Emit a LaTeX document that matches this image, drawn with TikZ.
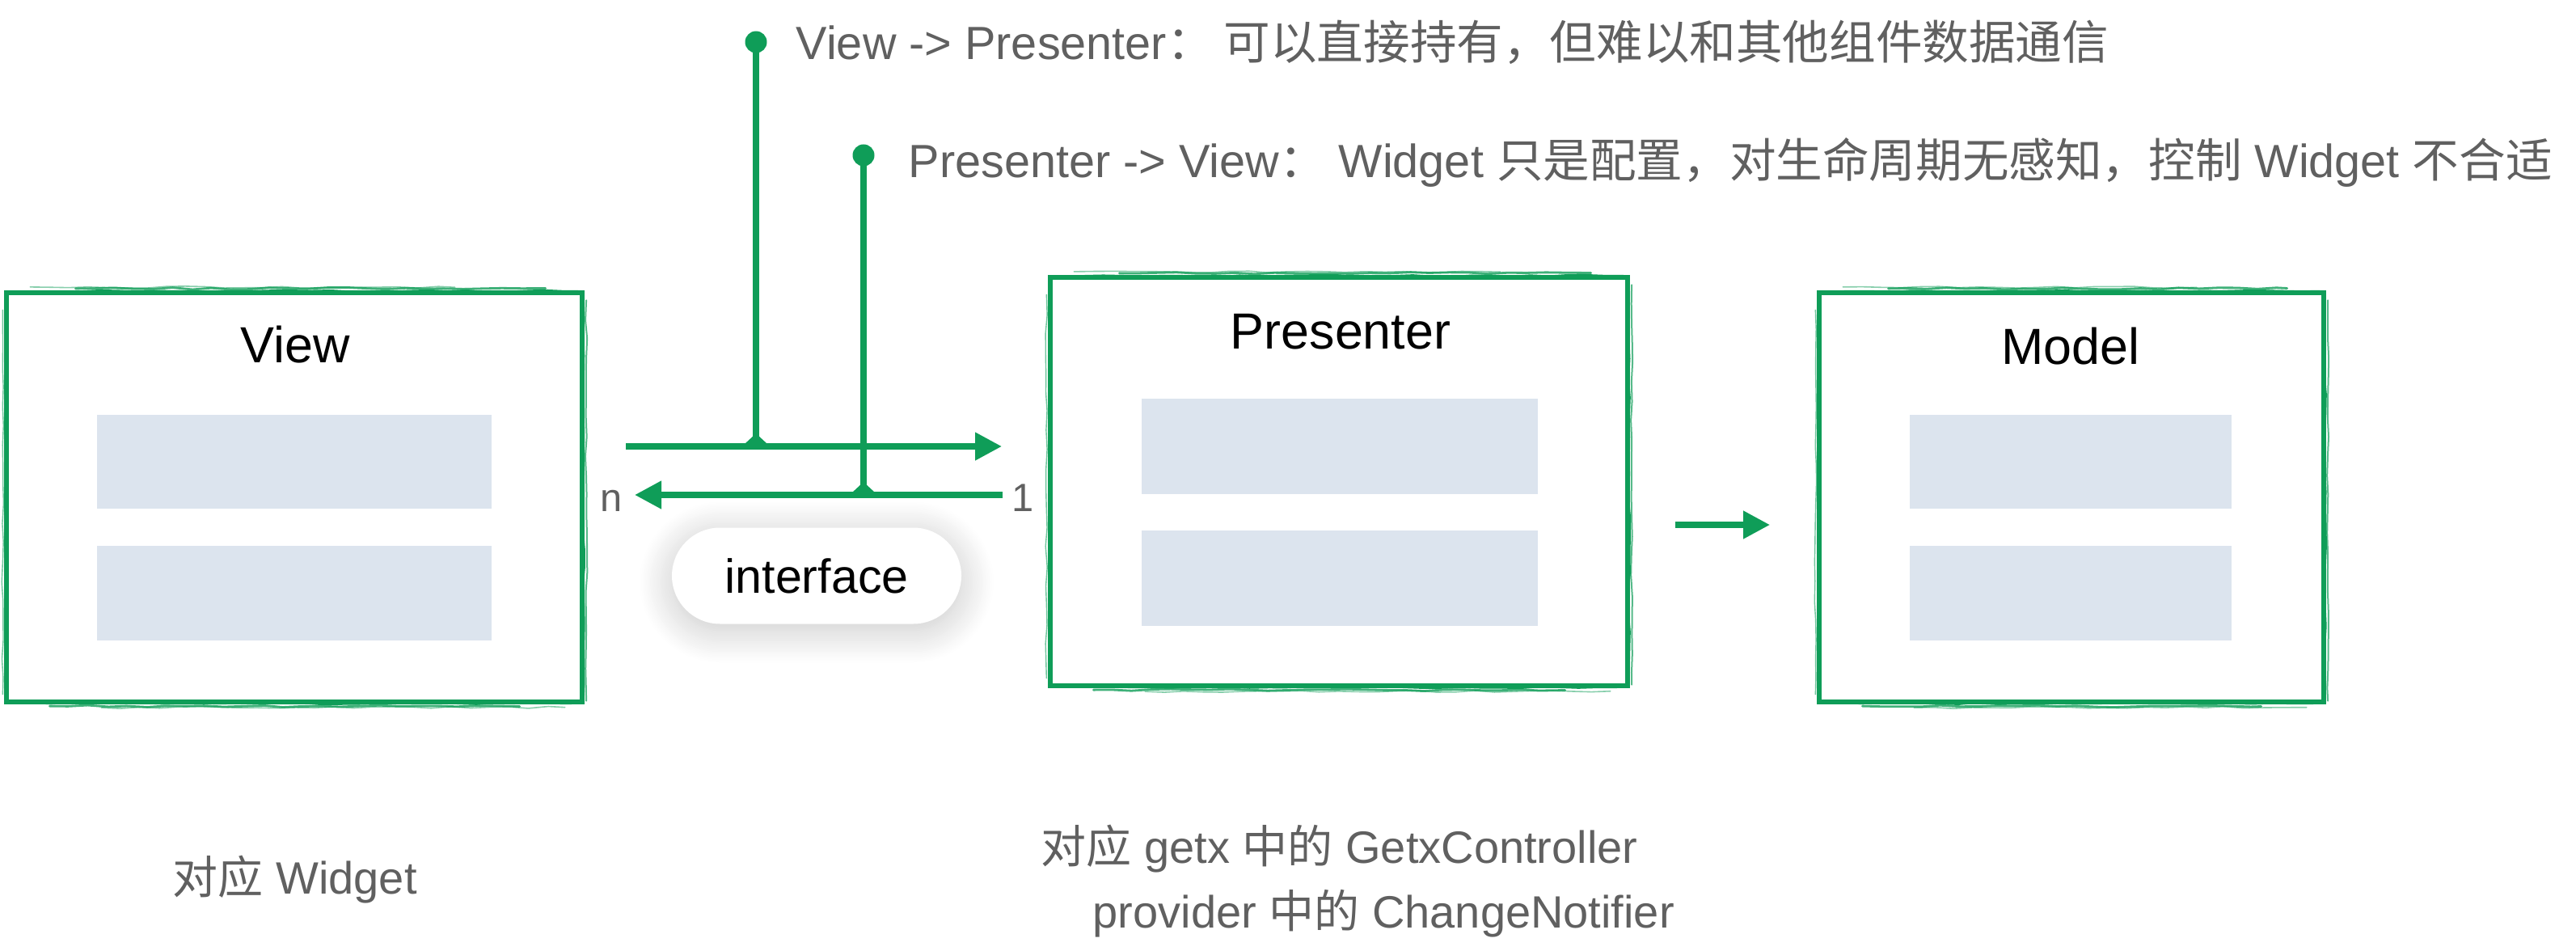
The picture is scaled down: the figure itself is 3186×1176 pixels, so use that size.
\documentclass[tikz,border=0pt]{standalone}
\usepackage{fontspec}
\setmainfont{Liberation Sans}
\newfontfamily\cjk{Noto Sans CJK SC}
\newcommand\zh[1]{{\cjk #1}}
\usetikzlibrary{arrows.meta,shapes.misc,shadows.blur,decorations.pathmorphing,calc}
\definecolor{mvpgreen}{RGB}{15,157,88}
\definecolor{panel}{RGB}{220,228,238}
\definecolor{notegray}{RGB}{96,96,96}
\tikzset{
  sketchbox/.style={draw=mvpgreen, line width=1.35pt, fill=white, inner sep=0pt},
  sk/.style={draw=mvpgreen, line cap=round, decorate, decoration={random steps, segment length=6pt, amplitude=0.3pt}},
  panelbox/.style={fill=panel, draw=none, inner sep=0pt},
  titletext/.style={font=\fontsize{15.7pt}{18pt}\selectfont, text=black, inner sep=0pt},
  notetext/.style={font=\fontsize{14.4pt}{17pt}\selectfont, text=notegray, inner sep=0pt, anchor=base west},
  captext/.style={font=\fontsize{14pt}{17pt}\selectfont, text=notegray, inner sep=0pt, anchor=base west},
  multext/.style={font=\fontsize{12.2pt}{14pt}\selectfont, text=notegray, inner sep=0pt, anchor=base},
  dotmark/.style={circle, fill=mvpgreen, inner sep=0pt, minimum size=6.75pt},
  link/.style={draw=mvpgreen, line width=1.875pt},
  arrowlink/.style={link, -{Triangle[length=8.25pt,width=8.25pt]}},
  pill/.style={rounded rectangle, fill=white, draw=none, minimum width=89.5pt, minimum height=29.75pt, inner sep=0pt,
    font=\fontsize{14.8pt}{17pt}\selectfont,
    blur shadow={shadow xshift=0pt, shadow yshift=-2pt, shadow blur radius=10pt, shadow blur steps=25, shadow opacity=22}},
}
\newcommand\brush[1]{%
  \draw[sk, line width=1.0pt] ([shift={(5pt,-0.5pt)}]#1.north west) -- ([shift={(-2pt,-0.4pt)}]#1.north east);
  \draw[sk, line width=0.7pt, opacity=.8] ([shift={(22pt,0.6pt)}]#1.north west) -- ([shift={(-12pt,0.7pt)}]#1.north east);
  \draw[sk, line width=0.4pt, opacity=.5] ([shift={(8pt,1.1pt)}]#1.north west) -- ([shift={(-40pt,1.0pt)}]#1.north east);
  \draw[sk, line width=1.0pt] ([shift={(2pt,0.5pt)}]#1.south west) -- ([shift={(-4pt,0.4pt)}]#1.south east);
  \draw[sk, line width=0.7pt, opacity=.8] ([shift={(14pt,-0.6pt)}]#1.south west) -- ([shift={(-20pt,-0.7pt)}]#1.south east);
  \draw[sk, line width=0.4pt, opacity=.5] ([shift={(30pt,-1.1pt)}]#1.south west) -- ([shift={(-6pt,-1.0pt)}]#1.south east);
  \draw[sk, line width=0.8pt] ([shift={(-0.4pt,-2pt)}]#1.north east) -- ([shift={(-0.4pt,2pt)}]#1.south east);
  \draw[sk, line width=0.5pt, opacity=.7] ([shift={(0.6pt,-3pt)}]#1.north east) -- ([shift={(0.6pt,1pt)}]#1.south east);
  \draw[sk, line width=0.35pt, opacity=.6] ([shift={(-0.5pt,-6pt)}]#1.north west) -- ([shift={(-0.5pt,3pt)}]#1.south west);
}
\begin{document}
\begin{tikzpicture}[x=0.25pt,y=-0.25pt]
\pgfmathsetseed{7}
\useasboundingbox (0,0) rectangle (3186,1176);

% boxes
\node[sketchbox, minimum width=178pt, minimum height=126.5pt] (view) at (364,615) {};
\node[sketchbox, minimum width=178.5pt, minimum height=126.25pt] (pres) at (1656,595.5) {};
\node[sketchbox, minimum width=156pt, minimum height=126.5pt] (model) at (2562,615) {};
\brush{view}
\brush{pres}
\brush{model}

% titles
\node[titletext, anchor=base] (viewt) at (365,449) {View};
\node[titletext, anchor=base] (prest) at (1658,431) {Presenter};
\node[titletext, anchor=base] (modelt) at (2561,451) {Model};

% inner panels
\node[panelbox, minimum width=122pt, minimum height=29pt] (v1) at (364,571) {};
\node[panelbox, minimum width=122pt, minimum height=29.25pt] (v2) at (364,733.5) {};
\node[panelbox, minimum width=122.5pt, minimum height=29.5pt] (p1) at (1657,552) {};
\node[panelbox, minimum width=122.5pt, minimum height=29.5pt] (p2) at (1657,715) {};
\node[panelbox, minimum width=99.5pt, minimum height=29pt] (m1) at (2561,571) {};
\node[panelbox, minimum width=99.5pt, minimum height=29.25pt] (m2) at (2561,733.5) {};

% connector end points
\coordinate (a1s) at (774,552);
\coordinate (a1e) at (1239,552);
\coordinate (a2s) at (1240,612);
\coordinate (a2e) at (785,612);
\coordinate (j1) at (935,552);
\coordinate (j2) at (1068,612);
\coordinate (a3s) at (2072,649);
\coordinate (a3e) at (2189,649);

% interface pill
\node[pill] (iface) at (1010,712) {interface};

% arrows
\draw[arrowlink] (a1s) -- (a1e);
\draw[arrowlink] (a2s) -- (a2e);
\draw[arrowlink] (a3s) -- (a3e);

% annotation dots and stems
\node[dotmark] (d1) at (935,52) {};
\node[dotmark] (d2) at (1068,192) {};
\draw[link] (d1.center) -- (j1);
\draw[link] (d2.center) -- (j2);
\fill[mvpgreen] ($(j1)+(-14,-3)$) -- ($(j1)+(14,-3)$) -- ($(j1)+(0,-16)$) -- cycle;
\fill[mvpgreen] ($(j2)+(-14,-3)$) -- ($(j2)+(14,-3)$) -- ($(j2)+(0,-16)$) -- cycle;

% multiplicity labels
\node[multext] (mn) at (756,632) {n};
\node[multext] (m1lab) at (1265,632) {1};

% annotations
\node[notetext] (note1) at (984,74) {View -> Presenter\zh{： 可以直接持有，但难以和其他组件数据通信}};
\node[notetext] (note2) at (1123,220) {Presenter -> View\zh{：} Widget \zh{只是配置，对生命周期无感知，控制} Widget \zh{不合适}};

% captions
\node[captext] (cap1) at (213,1105) {\zh{对应} Widget};
\node[captext] (cap2) at (1287,1067) {\zh{对应} getx \zh{中的} GetxController};
\node[captext] (cap3) at (1351,1147) {provider \zh{中的} ChangeNotifier};
\end{tikzpicture}
\end{document}
